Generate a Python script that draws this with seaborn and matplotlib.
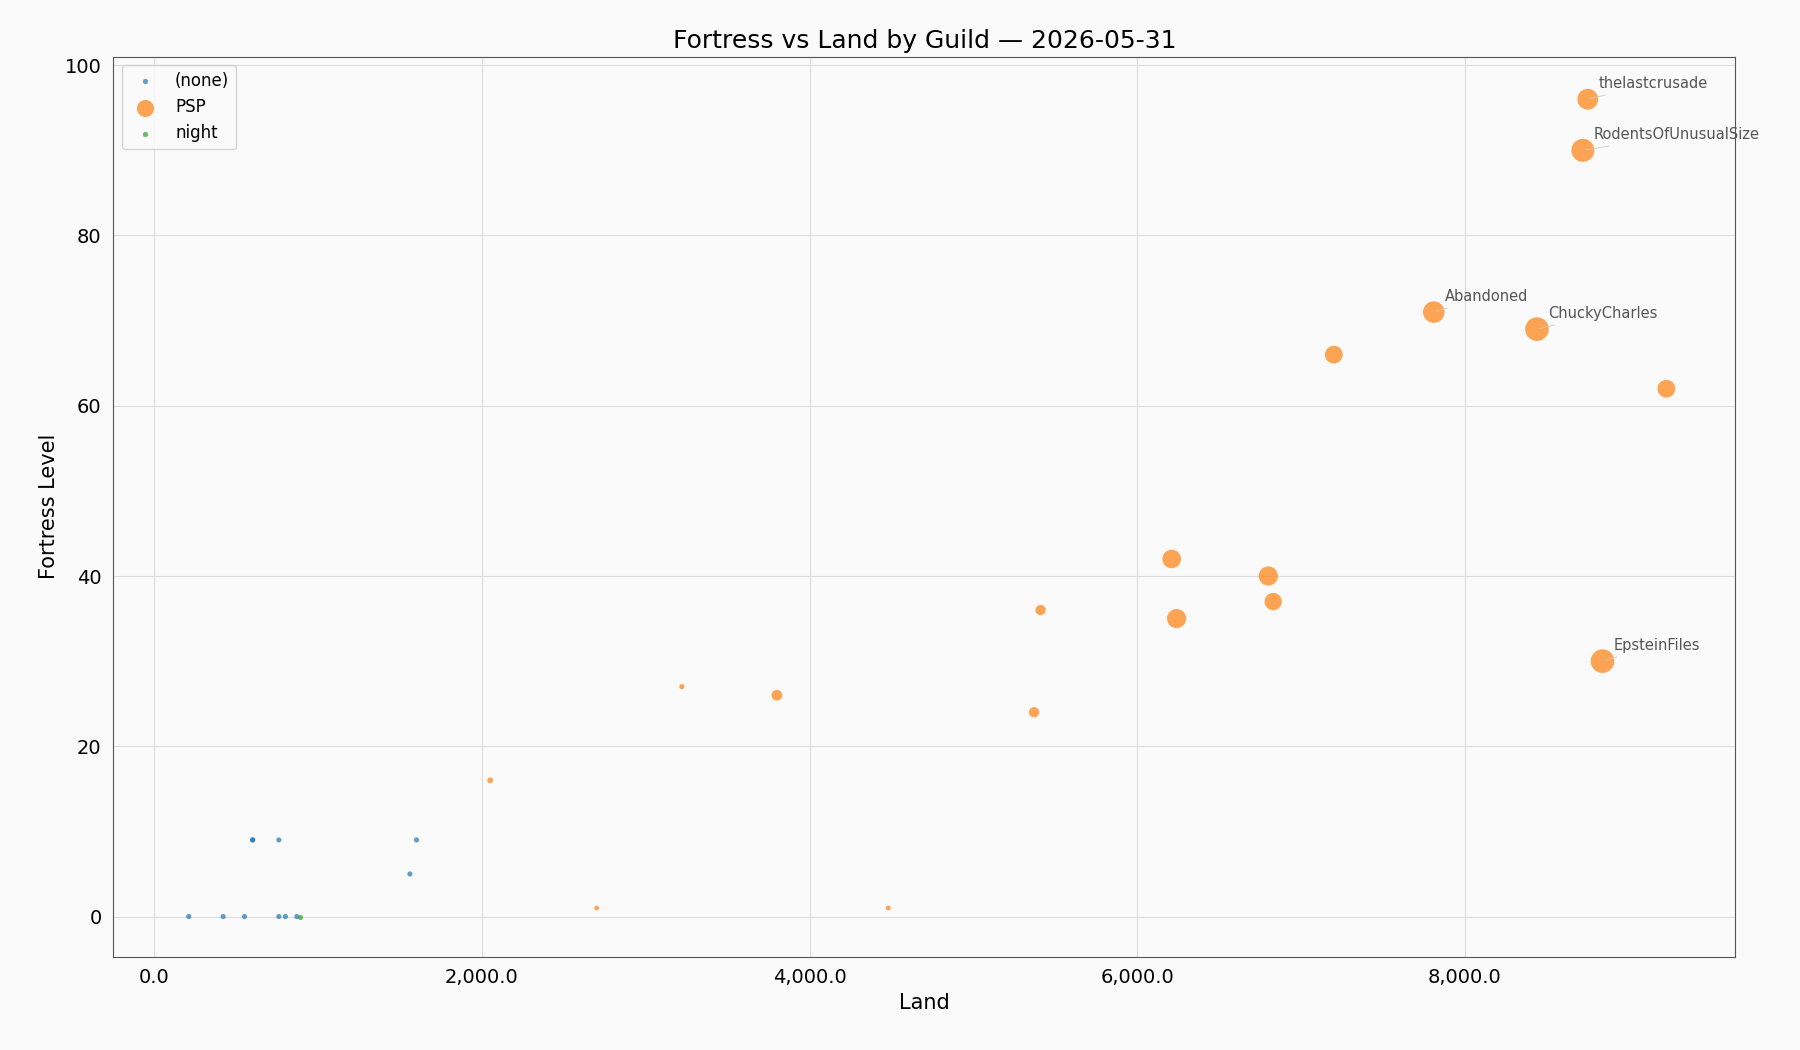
import numpy as np
import pandas as pd
import matplotlib
matplotlib.use('Agg')
import matplotlib.pyplot as plt
import seaborn as sns
from matplotlib.ticker import FuncFormatter

# data
none_land = [210, 420, 550, 760, 800, 870, 600, 600, 760, 1560, 1600]
none_fort = [0, 0, 0, 0, 0, 0, 9, 9, 9, 5, 9]
none_size = [14, 14, 14, 14, 14, 14, 14, 14, 14, 14, 14]

night_land = [890]
night_fort = [0]
night_size = [14]

psp_land = [2050, 2700, 3220, 3800, 4480, 5370, 5410, 6210, 6240, 6800, 6830,
            7200, 7810, 8440, 8720, 8750, 8840, 9230]
psp_fort = [16, 1, 27, 26, 1, 24, 36, 42, 35, 40, 37, 66, 71, 69, 90, 96, 30, 62]
psp_size = [18, 12, 14, 60, 12, 55, 55, 180, 190, 190, 155, 165, 240, 290, 275, 225, 290, 165]

labels = {'thelastcrusade': (8750, 96), 'RodentsOfUnusualSize': (8720, 90),
          'Abandoned': (7810, 71), 'ChuckyCharles': (8440, 69), 'EpsteinFiles': (8840, 30)}

sns.set_style('white')
plt.rcParams['font.family'] = ['DejaVu Sans']
plt.rcParams['text.color'] = 'black'
plt.rcParams['axes.labelcolor'] = 'black'
plt.rcParams['xtick.color'] = 'black'
plt.rcParams['ytick.color'] = 'black'
fig, ax = plt.subplots(figsize=(18, 10.5), dpi=100)
fig.patch.set_facecolor('#fafafa')
ax.set_facecolor('#fafafa')

groups = [('(none)', none_land, none_fort, none_size, '#1f77b4'),
          ('PSP', psp_land, psp_fort, psp_size, '#ff7f0e'),
          ('night', night_land, night_fort, night_size, '#2ca02c')]
for name, xs, ys, ss, c in groups:
    df = pd.DataFrame({'Land': xs, 'Fortress Level': ys})
    ax.scatter(df['Land'], df['Fortress Level'], s=ss, color=c, alpha=0.7,
               linewidths=0, label=name)

for name, (x, y) in labels.items():
    ax.annotate(name, (x, y), xytext=(8, 8), textcoords='offset points',
                fontsize=10.5, color='#555555',
                arrowprops=dict(arrowstyle='-', color='#cccccc', lw=0.6))

ax.set_xlim(-250, 9650)
ax.set_ylim(-4.7, 101)
ax.grid(True, color='#dddddd', linewidth=0.8)
ax.xaxis.set_major_formatter(FuncFormatter(lambda v, p: f'{v:,.1f}'))
ax.tick_params(labelsize=14, length=5)
for sp in ax.spines.values():
    sp.set_color('#555555')
ax.set_xlabel('Land', fontsize=15)
ax.set_ylabel('Fortress Level', fontsize=15)
ax.set_title('Fortress vs Land by Guild — 2026-05-31', fontsize=18)
ax.legend(loc='upper left', fontsize=12, frameon=True, facecolor='#fafafa')

fig.subplots_adjust(left=0.063, right=0.964, top=0.946, bottom=0.089)
fig.savefig('out.png', facecolor=fig.get_facecolor())
